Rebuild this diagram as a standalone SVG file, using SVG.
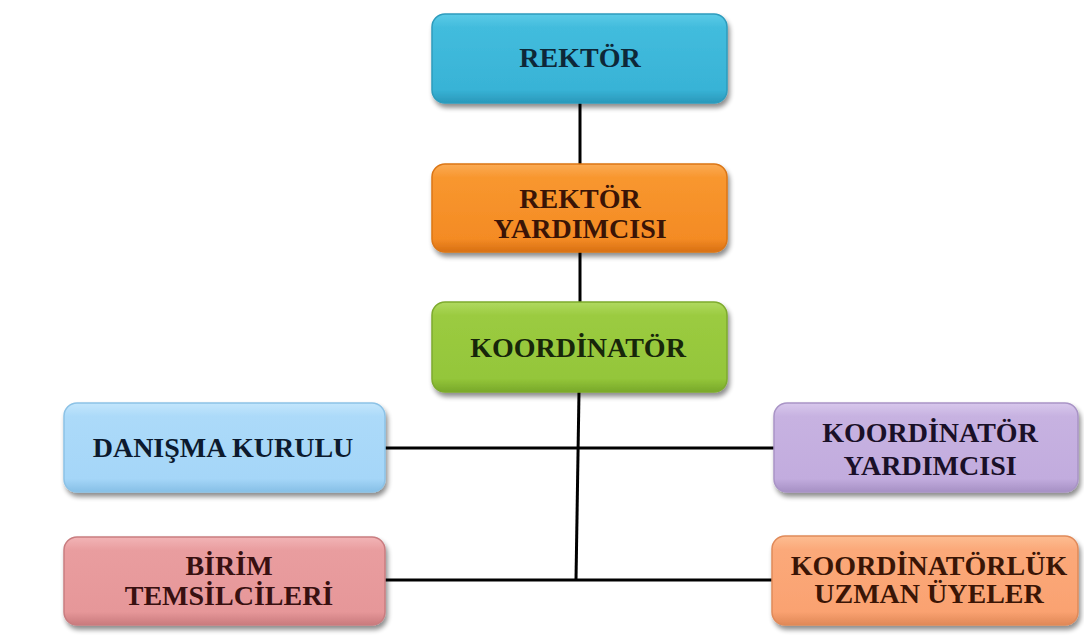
<svg xmlns="http://www.w3.org/2000/svg" width="1084" height="642" viewBox="0 0 1084 642">
  <defs>
    <filter id="sh" x="-10%" y="-20%" width="125%" height="150%">
      <feGaussianBlur in="SourceAlpha" stdDeviation="2.5"/>
      <feOffset dx="2" dy="4" result="b"/>
      <feComponentTransfer><feFuncA type="linear" slope="0.45"/></feComponentTransfer>
      <feMerge><feMergeNode/><feMergeNode in="SourceGraphic"/></feMerge>
    </filter>
    <linearGradient id="gCyan" x1="0" y1="0" x2="0" y2="1">
      <stop offset="0" stop-color="#5ccbe7"/><stop offset="0.15" stop-color="#42bcdd"/><stop offset="0.85" stop-color="#38b3d6"/><stop offset="1" stop-color="#2a98ba"/>
    </linearGradient>
    <linearGradient id="gOrange" x1="0" y1="0" x2="0" y2="1">
      <stop offset="0" stop-color="#fbab55"/><stop offset="0.15" stop-color="#f8972f"/><stop offset="0.85" stop-color="#f48b24"/><stop offset="1" stop-color="#d87013"/>
    </linearGradient>
    <linearGradient id="gGreen" x1="0" y1="0" x2="0" y2="1">
      <stop offset="0" stop-color="#b0d960"/><stop offset="0.15" stop-color="#9bcb40"/><stop offset="0.85" stop-color="#94c63a"/><stop offset="1" stop-color="#78a82a"/>
    </linearGradient>
    <linearGradient id="gLblue" x1="0" y1="0" x2="0" y2="1">
      <stop offset="0" stop-color="#c3e6fc"/><stop offset="0.15" stop-color="#acdaf9"/><stop offset="0.85" stop-color="#a5d6f8"/><stop offset="1" stop-color="#86bfe6"/>
    </linearGradient>
    <linearGradient id="gPurple" x1="0" y1="0" x2="0" y2="1">
      <stop offset="0" stop-color="#d8c8ec"/><stop offset="0.15" stop-color="#c7b2e1"/><stop offset="0.85" stop-color="#c2acde"/><stop offset="1" stop-color="#a690c4"/>
    </linearGradient>
    <linearGradient id="gPink" x1="0" y1="0" x2="0" y2="1">
      <stop offset="0" stop-color="#f2b4b6"/><stop offset="0.15" stop-color="#e99d9f"/><stop offset="0.85" stop-color="#e69799"/><stop offset="1" stop-color="#c97a7d"/>
    </linearGradient>
    <linearGradient id="gPeach" x1="0" y1="0" x2="0" y2="1">
      <stop offset="0" stop-color="#fdbd92"/><stop offset="0.15" stop-color="#fba97a"/><stop offset="0.85" stop-color="#faa271"/><stop offset="1" stop-color="#e08857"/>
    </linearGradient>
  </defs>
  <style>
    .box { filter: url(#sh); stroke-width: 1.5; }
    .t { font-family: "Liberation Serif", "Times New Roman", serif; font-weight: bold; font-size: 28px; text-anchor: middle; }
    .conn { stroke: #000; stroke-width: 3; fill: none; stroke-linecap: butt; }
  </style>
  <rect width="1084" height="642" fill="#ffffff"/>

  <g id="connectors">
    <line class="conn" x1="580" y1="103" x2="580" y2="165"/>
    <line class="conn" x1="580" y1="252" x2="580" y2="302"/>
    <line class="conn" x1="579" y1="392" x2="576" y2="580"/>
    <line class="conn" x1="385" y1="448" x2="774" y2="448"/>
    <line class="conn" x1="385" y1="580" x2="772" y2="580"/>
  </g>

  <g id="rektor">
    <rect class="box" x="432" y="14" width="295" height="89" rx="13" fill="url(#gCyan)" stroke="#2d9cbd"/>
    <text class="t" x="580" y="67" fill="#0e2838">REKTÖR</text>
  </g>

  <g id="rektor-yardimcisi">
    <rect class="box" x="432" y="164" width="295" height="88" rx="13" fill="url(#gOrange)" stroke="#db7616"/>
    <text class="t" x="580" y="208" fill="#3a1406">REKTÖR</text>
    <text class="t" x="580" y="238" fill="#3a1406">YARDIMCISI</text>
  </g>

  <g id="koordinator">
    <rect class="box" x="432" y="302" width="295" height="90" rx="13" fill="url(#gGreen)" stroke="#7eab2e"/>
    <text class="t" x="578" y="357" fill="#17260a">KOORDİNATÖR</text>
  </g>

  <g id="danisma-kurulu">
    <rect class="box" x="64" y="403" width="321" height="89" rx="13" fill="url(#gLblue)" stroke="#8cc2e6"/>
    <text class="t" x="223" y="457" fill="#0c1a2e">DANIŞMA KURULU</text>
  </g>

  <g id="koordinator-yardimcisi">
    <rect class="box" x="774" y="403" width="304" height="89" rx="13" fill="url(#gPurple)" stroke="#a994c6"/>
    <text class="t" x="930" y="442" fill="#1a1028">KOORDİNATÖR</text>
    <text class="t" x="930" y="475" fill="#1a1028">YARDIMCISI</text>
  </g>

  <g id="birim-temsilcileri">
    <rect class="box" x="64" y="537" width="321" height="88" rx="13" fill="url(#gPink)" stroke="#c97d80"/>
    <text class="t" x="229" y="575" fill="#381010">BİRİM</text>
    <text class="t" x="229" y="605" fill="#381010">TEMSİLCİLERİ</text>
  </g>

  <g id="koordinatorluk-uzman-uyeler">
    <rect class="box" x="772" y="536" width="306" height="89" rx="13" fill="url(#gPeach)" stroke="#e08a5a"/>
    <text class="t" x="929" y="575" fill="#3a1506">KOORDİNATÖRLÜK</text>
    <text class="t" x="929" y="603" fill="#3a1506">UZMAN ÜYELER</text>
  </g>
</svg>
